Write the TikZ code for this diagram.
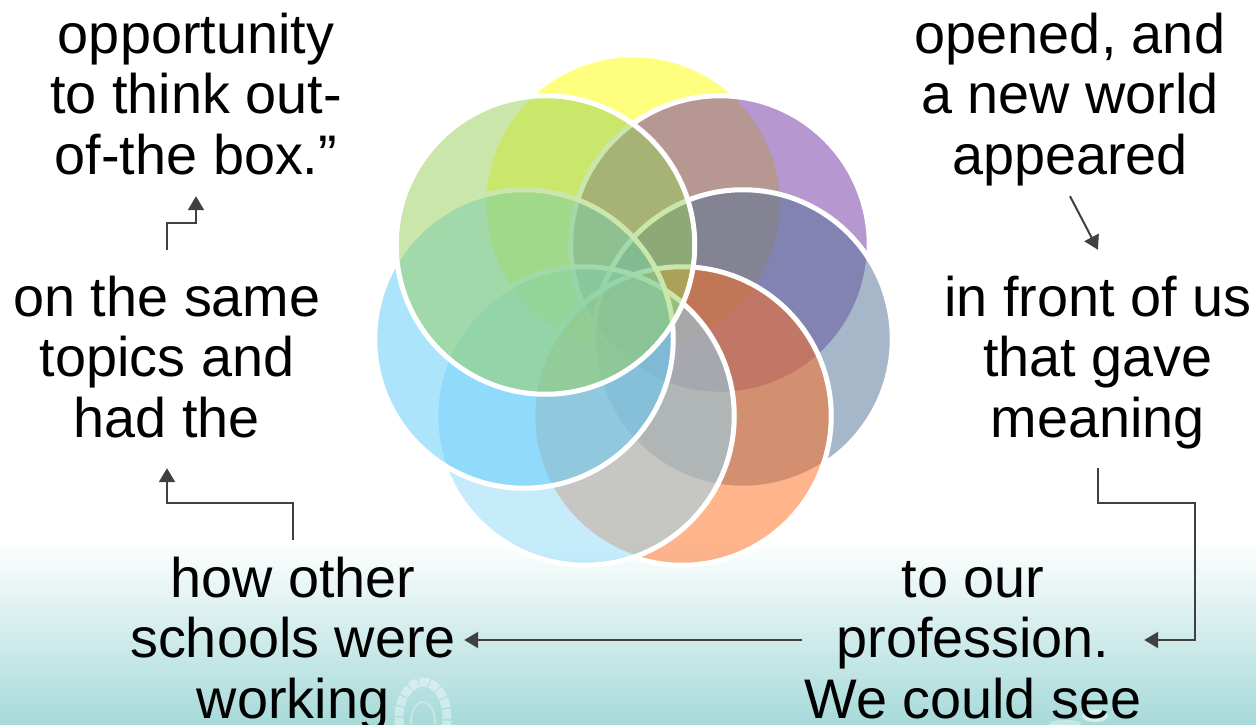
\documentclass[tikz,border=0pt]{standalone}
\usepackage{fontspec}
\setmainfont{Liberation Sans}
\usetikzlibrary{arrows.meta}
\definecolor{cYellow}{HTML}{FFFF00}
\definecolor{cPurple}{HTML}{6E30A3}
\definecolor{cNavy}{HTML}{517097}
\definecolor{cOrange}{HTML}{FF6A1A}
\definecolor{cPale}{HTML}{8EDAF9}
\definecolor{cSky}{HTML}{5BCBFB}
\definecolor{cGreen}{HTML}{97CF59}
\definecolor{cLine}{HTML}{404040}
\definecolor{cTeal}{HTML}{A6DAD9}
\newcommand{\tstrut}{\rule{0pt}{50pt}}
\newcommand{\bstrut}{\rule[-15pt]{0pt}{15pt}}
\tikzset{
  x=1pt,y=-1pt,
  petal/.style={draw=white,line width=5pt,fill opacity=0.5,circle,minimum size=298.5pt,inner sep=0pt},
  block/.style={align=center,inner sep=0pt,font=\fontsize{55.8}{60.5}\selectfont,minimum width=342pt},
  link/.style={draw=cLine,line width=2pt,-{Triangle[length=14pt,width=16pt]}},
  crest/.style={draw=white,draw opacity=0.4,line width=9pt,dash pattern=on 9pt off 1.5pt},
}
\begin{document}
\begin{tikzpicture}
\useasboundingbox (0,0) rectangle (1256,725);
\fill[white] (0,0) rectangle (1256,725);
\shade[top color=white,bottom color=cTeal] (0,540) rectangle (1256,725);
\begin{scope}
\clip (0,0) rectangle (1256,725);
\draw[crest] (423,718) ellipse (24pt and 36pt);
\draw[draw=white,draw opacity=0.3,line width=2pt] (423,722) ellipse (12pt and 20pt);
\fill[white,opacity=0.55] (1095,716) ellipse (13pt and 6pt);
\fill[white,opacity=0.35] (1065,724) ellipse (16pt and 4pt);
\end{scope}
\node[petal,fill=cYellow] (p1) at (633,204) {};
\node[petal,fill=cPurple] (p2) at (720,245) {};
\node[petal,fill=cNavy] (p3) at (743,339) {};
\node[petal,fill=cOrange] (p4) at (682,416) {};
\node[petal,fill=cPale] (p5) at (585,416) {};
\node[petal,fill=cSky] (p6) at (524,339) {};
\node[petal,fill=cGreen] (p7) at (545.5,245) {};
\node[block,minimum height=200pt] (a) at (196,96) {\tstrut opportunity\\to think out-\\of-the box.”\bstrut};
\node[block,minimum height=218pt] (b) at (167,359) {\tstrut on the same\\topics and\\had the\bstrut};
\node[block,minimum height=200pt] (c) at (293,640) {\tstrut how other\\schools were\\working\bstrut};
\node[block,minimum height=200pt] (d) at (973,640) {\tstrut to our\\profession.\\We could see\bstrut};
\node[block,minimum height=218pt] (e) at (1098,359) {\tstrut in front of us\\that gave\\meaning\bstrut};
\node[block,minimum height=200pt] (f) at (1070,96) {\tstrut opened, and\\a new world\\appeared\bstrut};
\coordinate (m1) at (230,503);
\coordinate (m2) at (180,223);
\coordinate (m3) at (1195,503);
\path[link] (c.north) |- (m1) -| (b.south);
\path[link] (b.north) |- (m2) -| (a.south);
\path[link] (f.south) -- (e.north);
\path[link] (e.south) |- (m3) |- (d.east);
\path[link] (d.west) -- (c.east);
\end{tikzpicture}
\end{document}
